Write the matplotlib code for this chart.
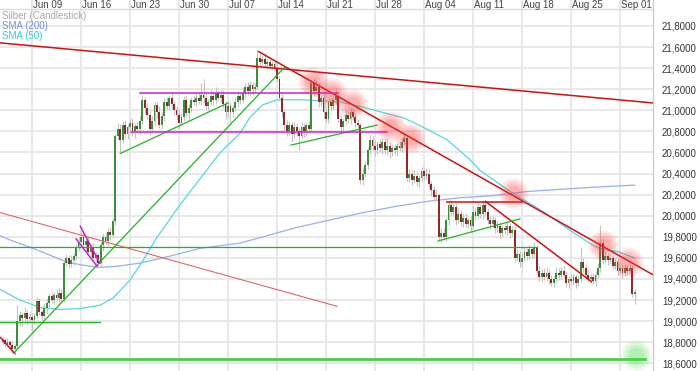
import numpy as np
import matplotlib
matplotlib.use("Agg")
import matplotlib.pyplot as plt
from matplotlib.transforms import blended_transform_factory

plt.rcParams['font.family'] = ['Liberation Sans', 'DejaVu Sans']

# ---------------- data ----------------
# time axis in days relative to Monday 2014-06-09
week_labels = ["Jun 09", "Jun 16", "Jun 23", "Jun 30", "Jul 07", "Jul 14", "Jul 21",
               "Jul 28", "Aug 04", "Aug 11", "Aug 18", "Aug 25", "Sep 01"]
week_days = [0, 7, 14, 21, 28, 35, 42, 49, 56, 63, 70, 77, 84]

candle_start = -4.2     # first candle (day)
candle_step = 0.35      # 6-hour candles

first_open = 18.80
closes = [
    18.82, 18.78, 18.80, 18.77, 18.74, 18.76, 19.00, 19.06, 19.03, 19.08,
    19.02, 19.04, 19.01, 19.05, 19.19, 19.09, 19.05, 19.12, 19.17, 19.24,
    19.20, 19.25, 19.22, 19.27, 19.21, 19.55, 19.60, 19.54, 19.58, 19.62,
    19.70, 19.75, 19.80, 19.72, 19.76, 19.66, 19.70, 19.60, 19.63, 19.55,
    19.72, 19.80, 19.76, 19.85, 19.82, 19.95, 20.76, 20.82, 20.72, 20.86,
    20.78, 20.84, 20.88, 20.80, 20.85, 20.82, 20.90, 21.10, 21.02, 20.96,
    20.82, 20.90, 21.05, 20.98, 20.86, 20.95, 21.08, 21.04, 21.12, 21.06,
    21.00, 20.96, 20.88, 20.94, 21.10, 20.97, 21.02, 21.10, 21.08, 21.12,
    21.09, 21.15, 21.12, 21.04, 21.08, 21.14, 21.10, 21.16, 21.12, 21.15,
    21.06, 20.98, 21.04, 20.98, 21.02, 21.08, 21.14, 21.10, 21.16, 21.22,
    21.18, 21.24, 21.20, 21.22, 21.50, 21.46, 21.49, 21.44, 21.46, 21.42,
    21.44, 21.40, 21.30, 21.12, 20.98, 20.86, 20.80, 20.86, 20.78, 20.84,
    20.80, 20.76, 20.84, 20.80, 20.86, 20.82, 21.26, 21.18, 21.22, 21.08,
    21.12, 20.98, 20.92, 21.08, 21.04, 21.10, 21.14, 20.92, 20.84, 20.90,
    20.96, 20.92, 20.98, 20.94, 20.88, 20.86, 20.34, 20.40, 20.48, 20.62,
    20.72, 20.66, 20.62, 20.68, 20.64, 20.70, 20.62, 20.66, 20.60, 20.64,
    20.62, 20.66, 20.64, 20.70, 20.74, 20.36, 20.40, 20.34, 20.38, 20.32,
    20.36, 20.42, 20.38, 20.40, 20.30, 20.24, 20.18, 20.20, 19.80, 19.84,
    19.80, 19.96, 20.10, 20.04, 20.08, 19.96, 20.02, 19.94, 19.98, 19.92,
    19.96, 19.90, 20.04, 20.00, 20.08, 20.02, 20.10, 20.04, 19.96, 19.92,
    19.96, 19.88, 19.90, 19.84, 19.88, 19.86, 19.90, 19.84, 19.86, 19.60,
    19.64, 19.56, 19.60, 19.66, 19.62, 19.68, 19.64, 19.70, 19.48, 19.42,
    19.46, 19.42, 19.46, 19.40, 19.36, 19.40, 19.46, 19.44, 19.48, 19.44,
    19.36, 19.40, 19.38, 19.42, 19.36, 19.40, 19.56, 19.50, 19.44, 19.40,
    19.42, 19.38, 19.44, 19.50, 19.74, 19.58, 19.62, 19.58, 19.60, 19.52,
    19.56, 19.48, 19.50, 19.46, 19.50, 19.48, 19.50, 19.26, 19.28,
]
wick_up = [
    .03, .02, .04, .02, .03, .02, .15, .04, .03, .05,
    .03, .05, .04, .03, .04, .03, .02, .05, .04, .03,
    .04, .03, .05, .04, .03, .02, .04, .03, .05, .03,
    .03, .05, .06, .04, .03, .05, .03, .04, .03, .02,
    .03, .04, .05, .03, .04, .02, .02, .06, .05, .04,
    .05, .03, .04, .05, .03, .04, .05, .04, .03, .05,
    .04, .05, .03, .04, .06, .03, .04, .05, .03, .04,
    .03, .04, .05, .03, .04, .05, .04, .03, .05, .04,
    .05, .11, .15, .04, .03, .05, .04, .06, .03, .04,
    .04, .03, .05, .04, .03, .05, .04, .03, .05, .04,
    .05, .04, .03, .04, .07, .04, .03, .05, .03, .04,
    .03, .04, .06, .03, .04, .03, .05, .04, .03, .05,
    .04, .03, .05, .04, .03, .04, .03, .05, .08, .04,
    .03, .04, .05, .03, .04, .03, .06, .02, .04, .03,
    .04, .03, .05, .04, .03, .04, .02, .05, .04, .03,
    .05, .04, .06, .03, .05, .04, .03, .08, .04, .03,
    .04, .03, .05, .04, .06, .02, .04, .03, .05, .04,
    .03, .04, .03, .05, .04, .03, .04, .05, .02, .04,
    .04, .03, .04, .05, .03, .04, .05, .03, .04, .05,
    .03, .04, .05, .03, .04, .03, .05, .04, .03, .04,
    .04, .03, .05, .04, .03, .04, .05, .03, .04, .03,
    .04, .03, .05, .04, .03, .04, .03, .05, .02, .04,
    .03, .04, .05, .03, .04, .03, .05, .04, .03, .04,
    .04, .03, .05, .04, .03, .04, .14, .04, .03, .05,
    .03, .04, .03, .05, .17, .04, .05, .03, .04, .03,
    .04, .03, .05, .03, .04, .03, .04, .03, .02,
]
wick_dn = [
    .02, .03, .02, .03, .04, .06, .02, .05, .08, .03,
    .05, .03, .10, .04, .02, .03, .04, .03, .05, .04,
    .03, .04, .03, .05, .04, .03, .03, .04, .03, .05,
    .04, .03, .05, .04, .05, .03, .04, .03, .05, .03,
    .04, .05, .03, .04, .05, .03, .04, .04, .12, .03,
    .04, .05, .03, .04, .06, .03, .04, .03, .05, .04,
    .05, .03, .04, .05, .03, .04, .05, .03, .04, .05,
    .04, .05, .06, .03, .04, .03, .05, .04, .03, .04,
    .03, .04, .05, .03, .04, .03, .05, .04, .03, .04,
    .04, .06, .03, .12, .04, .03, .05, .04, .03, .04,
    .03, .04, .05, .03, .02, .04, .03, .04, .05, .03,
    .04, .03, .02, .03, .04, .05, .04, .03, .08, .04,
    .04, .14, .03, .05, .04, .03, .02, .04, .03, .05,
    .04, .05, .03, .04, .05, .03, .04, .03, .05, .04,
    .03, .04, .05, .03, .04, .03, .04, .05, .03, .04,
    .03, .04, .05, .03, .04, .05, .03, .04, .05, .03,
    .04, .05, .03, .04, .03, .03, .04, .05, .03, .04,
    .05, .03, .04, .03, .04, .05, .03, .04, .03, .05,
    .03, .04, .05, .03, .04, .05, .03, .04, .05, .03,
    .04, .05, .03, .04, .03, .04, .05, .03, .04, .05,
    .03, .04, .03, .05, .04, .03, .04, .05, .03, .04,
    .03, .05, .04, .03, .04, .03, .05, .04, .03, .04,
    .05, .03, .04, .05, .03, .04, .03, .05, .04, .03,
    .04, .05, .03, .04, .05, .03, .03, .04, .05, .03,
    .04, .03, .05, .03, .03, .04, .03, .05, .04, .03,
    .03, .04, .03, .05, .03, .04, .03, .03, .10,
]

# moving averages (day, price)
sma200_t = [-4.57, -3.14, 0.14, 5.0, 7.3, 9.7, 12.1, 15.4, 19.3, 24.0, 29.7, 33.0,
            37.9, 42.6, 47.3, 52.1, 56.9, 61.1, 65.9, 70.7, 75.4, 80.1, 86.1]
sma200_v = [19.81, 19.77, 19.69, 19.56, 19.53, 19.51, 19.52, 19.55, 19.61, 19.69, 19.74, 19.80,
            19.89, 19.96, 20.03, 20.09, 20.14, 20.17, 20.19, 20.23, 20.25, 20.27, 20.29]
sma50_t = [-4.57, -1.71, 1.14, 4.0, 6.86, 9.71, 11.6, 14.0, 15.9, 17.6, 21.1, 26.9, 29.7,
           31.1, 32.9, 35.0, 38.7, 44.0, 47.3, 50.1, 53.0, 55.0, 59.3, 62.6, 64.0, 68.3,
           73.0, 76.9, 80.1, 81.1, 83.6, 86.1]
sma50_v = [19.30, 19.20, 19.13, 19.11, 19.12, 19.15, 19.22, 19.39, 19.58, 19.77, 20.10, 20.60, 20.78,
           20.93, 21.05, 21.10, 21.10, 21.08, 21.03, 20.98, 20.93, 20.87, 20.72, 20.53, 20.43, 20.23,
           20.04, 19.86, 19.72, 19.69, 19.66, 19.60]

# drawn trend lines: (day0, price0, day1, price1)
red_lines = [(-4.57, 21.64, 88.7, 21.07), (32.3, 21.56, 88.7, 19.44),
             (-4.57, 18.85, -2.43, 18.69), (59.1, 20.13, 70.1, 20.13), (64.7, 20.14, 80.0, 19.37)]
thin_red_lines = [(-4.57, 20.03, 43.6, 19.14)]
green_lines = [(-2.43, 18.71, 36.1, 21.41), (12.6, 20.59, 28.0, 21.07),
               (37.0, 20.67, 49.3, 20.86), (58.0, 19.76, 69.7, 19.97),
               (-4.57, 19.70, 72.1, 19.70), (-4.57, 18.99, 9.7, 18.99)]
support_line = (-4.57, 18.64, 87.6, 18.64)
magenta_lines = [(15.4, 21.16, 43.7, 21.16), (14.1, 20.79, 50.7, 20.79),
                 (6.3, 19.78, 9.3, 19.52), (6.9, 19.90, 9.7, 19.55)]
red_marks_t = [40.14, 42.86, 45.71, 51.14, 54.0, 68.7, 81.57, 85.14]
red_marks_v = [21.27, 21.16, 21.06, 20.85, 20.74, 20.22, 19.72, 19.56]
green_mark = (86.3, 18.68)

y_ticks = [18.6, 18.8, 19.0, 19.2, 19.4, 19.6, 19.8, 20.0, 20.2, 20.4, 20.6, 20.8,
           21.0, 21.2, 21.4, 21.6, 21.8]

# ---------------- figure ----------------
W, H = 700, 371
fig = plt.figure(figsize=(W / 100, H / 100), dpi=100)
ax = fig.add_axes([0, 0, 653 / W, 1])
xmin, xmax = -32 / 7, (653 - 32) / 7
ymin, ymax = 21.8 - 345 / 105.4, 21.8 + 26 / 105.4
ax.set_xlim(xmin, xmax)
ax.set_ylim(ymin, ymax)

grid_c = '#e6e6e6'
ax.set_yticks(y_ticks)
ax.set_yticklabels([f"{v:.4f}".replace('.', ',') for v in y_ticks])
ax.yaxis.tick_right()
ax.tick_params(axis='y', length=0, pad=6.5, labelsize=6.9, colors='#333333')
ax.set_xticks([])
for s in ['left', 'top', 'bottom']:
    ax.spines[s].set_visible(False)
ax.spines['right'].set_color('#cccccc')
ax.spines['right'].set_linewidth(1)
for v in y_ticks:
    ax.axhline(v, color=grid_c, lw=1.3, zorder=0)
for d in week_days:
    ax.axvline(d, color=grid_c, lw=1.3, zorder=0)
ax.axhline(21.8 + 16.5 / 105.4, color='#dddddd', lw=1, zorder=0)

trans = blended_transform_factory(ax.transData, ax.transAxes)
for d, lab in zip(week_days, week_labels):
    ax.text(d + 0.15, 1 - 5 / H, lab, transform=trans, ha='left', va='center',
            fontsize=7, color='#444444')

# SMAs
ax.plot(sma200_t, sma200_v, color='#94b2ea', lw=0.9, zorder=2)
ax.plot(sma50_t, sma50_v, color='#55d6e2', lw=0.9, zorder=2)

# candles
c = np.array(closes)
o = np.r_[first_open, c[:-1]]
t = candle_start + candle_step * np.arange(len(c))
hi = np.maximum(o, c) + np.array(wick_up)
lo = np.minimum(o, c) - np.array(wick_dn)
ax.vlines(t, lo, hi, color='#c4c4c4', lw=0.8, zorder=3)
up = c >= o
body_h = np.where(np.abs(c - o) < 0.008, 0.008, np.abs(c - o))
body_b = np.minimum(o, c)
ax.bar(t[up], body_h[up], bottom=body_b[up], width=0.27, color='#3b8e3b', zorder=4, linewidth=0)
ax.bar(t[~up], body_h[~up], bottom=body_b[~up], width=0.27, color='#8c2b2b', zorder=4, linewidth=0)

# trend lines
for x0, y0, x1, y1 in red_lines:
    ax.plot([x0, x1], [y0, y1], color='#cc1111', lw=1.1, zorder=5, solid_capstyle='butt')
for x0, y0, x1, y1 in thin_red_lines:
    ax.plot([x0, x1], [y0, y1], color='#e06666', lw=0.8, zorder=5)
for x0, y0, x1, y1 in green_lines:
    ax.plot([x0, x1], [y0, y1], color='#22b322', lw=0.9, zorder=5)
ax.plot(support_line[::2], support_line[1::2], color='#4ccc4c', lw=2.0, zorder=5)
for x0, y0, x1, y1 in magenta_lines:
    ax.plot([x0, x1], [y0, y1], color='#cc22cc', lw=1.1, zorder=5)

# highlight circles (soft)
for size, a in [(480, 0.09), (340, 0.11), (220, 0.13), (120, 0.15)]:
    ax.scatter(red_marks_t, red_marks_v, s=size, color='#ff3b3b', alpha=a, lw=0, zorder=6)
    ax.scatter([green_mark[0]], [green_mark[1]], s=size, color='#44dd44', alpha=a, lw=0, zorder=6)

# legend texts
fig.text(2 / W, 1 - 16 / H, "Silber (Candlestick)", fontsize=7, color='#a8a8a8', va='center')
fig.text(2 / W, 1 - 26 / H, "SMA (200)", fontsize=7, color='#6f90dd', va='center')
fig.text(2 / W, 1 - 36 / H, "SMA (50)", fontsize=7, color='#2fcfcf', va='center')

fig.savefig("out.png", dpi=100)
